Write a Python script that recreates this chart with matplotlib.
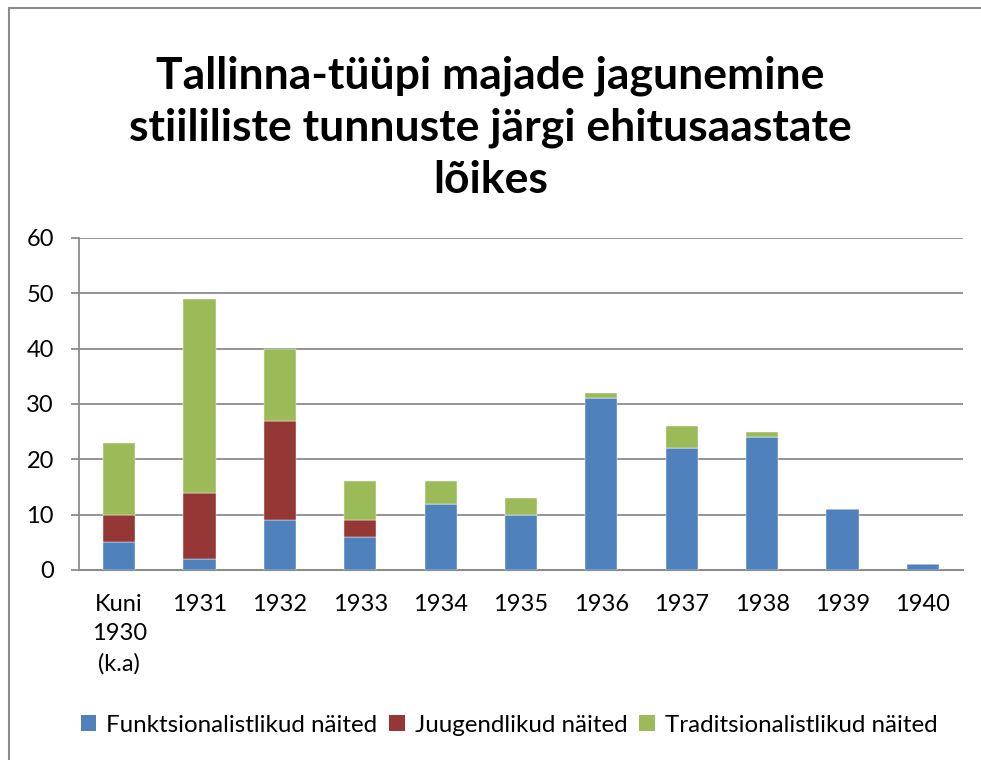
import matplotlib
matplotlib.use('Agg')
import matplotlib.pyplot as plt
from matplotlib.lines import Line2D
from matplotlib.patches import Patch
import numpy as np

plt.rcParams['font.family'] = ['Lato', 'DejaVu Sans']

# andmed
categories = ['Kuni\n1930\n(k.a)', '1931', '1932', '1933', '1934', '1935',
              '1936', '1937', '1938', '1939', '1940']
funktsionalistlikud = [5, 2, 9, 6, 12, 10, 31, 22, 24, 11, 1]
juugendlikud = [5, 12, 18, 3, 0, 0, 0, 0, 0, 0, 0]
traditsionalistlikud = [13, 35, 13, 7, 4, 3, 1, 4, 1, 0, 0]

series_names = ['Funktsionalistlikud näited', 'Juugendlikud näited',
                'Traditsionalistlikud näited']
colors = ['#4F81BD', '#953735', '#9BBB59']

W, H = 981, 760
fig = plt.figure(figsize=(W / 100, H / 100), dpi=100)

# raam
fig.add_artist(Line2D([9 / W, 9 / W], [0, 1 - 8 / H], color='#8c8c8c', lw=1.5))
fig.add_artist(Line2D([9 / W, 1], [1 - 8 / H, 1 - 8 / H], color='#8c8c8c', lw=1.5))

ax = fig.add_axes([79 / W, (H - 570) / H, 884 / W, 332 / H])

x = np.arange(len(categories))
bottom = np.zeros(len(categories))
for vals, c in zip([funktsionalistlikud, juugendlikud, traditsionalistlikud], colors):
    ax.bar(x, vals, width=0.4, bottom=bottom, color=c, edgecolor='white', linewidth=0.3, zorder=3)
    bottom += np.array(vals)

ax.set_xlim(-0.5, len(categories) - 0.5)
ax.set_ylim(0, 60)
ax.set_yticks(range(0, 61, 10))
ax.yaxis.grid(True, color='#8c8c8c', linewidth=1.3, zorder=0)
ax.set_axisbelow(True)

for s in ['top', 'right']:
    ax.spines[s].set_visible(False)
ax.spines['left'].set_color('#8c8c8c')
ax.spines['bottom'].set_color('#8c8c8c')
ax.spines['left'].set_linewidth(1.3)
ax.spines['bottom'].set_linewidth(1.5)

ax.set_xticks(x)
ax.set_xticklabels(categories, fontsize=17, linespacing=1.5, va='top')
ax.tick_params(axis='x', length=0, pad=17)
ax.tick_params(axis='y', length=6, width=1.3, color='#8c8c8c', labelsize=17, pad=12)

fig.text(0.5, 1 - 128 / H, 'Tallinna-tüüpi majade jagunemine\nstiililiste tunnuste järgi ehitusaastate\nlõikes',
         ha='center', va='center', fontsize=32, fontweight='bold', linespacing=1.35)

handles = [Patch(facecolor=c, edgecolor='none') for c in colors]
fig.legend(handles, series_names, loc='center', bbox_to_anchor=(509 / W, 1 - 725 / H),
           ncol=3, frameon=False, fontsize=17.4, handlelength=0.65, handleheight=0.65,
           handletextpad=0.4, columnspacing=0.5)

fig.savefig('out.png', dpi=100)
